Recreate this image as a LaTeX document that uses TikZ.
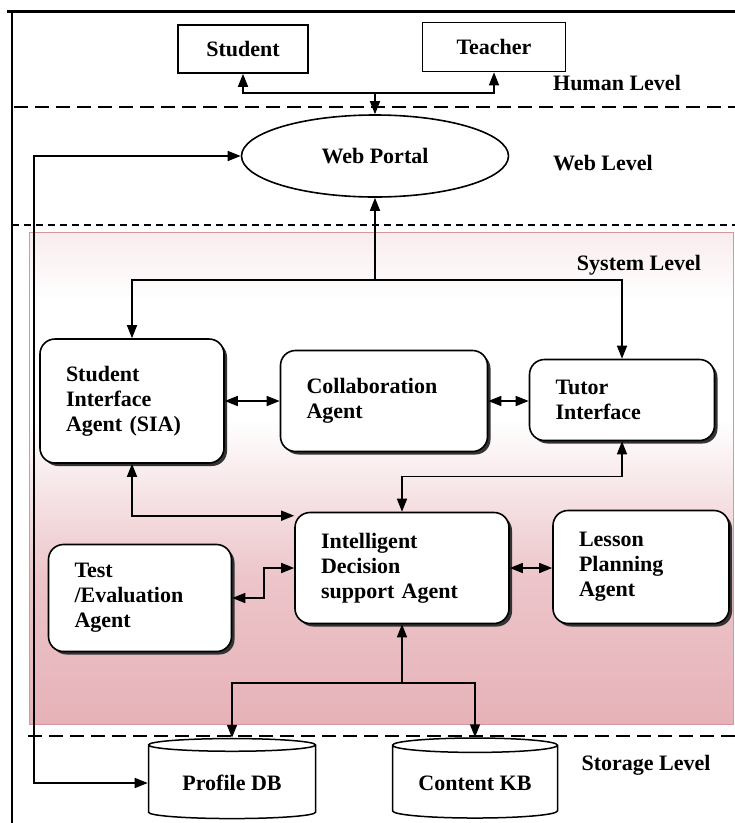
\documentclass[tikz,border=0pt]{standalone}
\usepackage{fontspec}
\setmainfont{Liberation Serif}
\usetikzlibrary{arrows.meta,shapes.geometric,shadows}

\definecolor{syspink}{RGB}{230,178,184}
\definecolor{sysedge}{RGB}{214,150,158}
\pgfdeclareverticalshading{sysfade}{100bp}{color(0bp)=(syspink); color(25bp)=(syspink); color(40bp)=(syspink!75!white); color(56bp)=(white); color(68bp)=(white); color(75bp)=(syspink!25!white); color(100bp)=(syspink!25!white)}

\begin{document}
\begin{tikzpicture}[x=1pt,y=-1pt,>={Triangle[length=13pt,width=10pt]},
        every node/.style={font=\fontsize{22}{25}\selectfont\bfseries},
        person/.style={draw,line width=1.6pt,fill=white},
        agent/.style={draw,line width=1.6pt,fill=white,rounded corners=15pt,align=left,inner xsep=26pt,
          drop shadow={shadow xshift=3pt,shadow yshift=-3pt,fill=black!80,opacity=1}},
        store/.style={draw,cylinder,shape border rotate=90,aspect=0.12,fill=white,line width=1.5pt},
        levelline/.style={line width=2pt,dash pattern=on 14pt off 7pt},
        link/.style={line width=1.6pt}]
        \useasboundingbox (0,0) rectangle (735,823);

        % system level background
        \shade[shading=sysfade] (29,232) rectangle (733,724);
        \draw[sysedge,line width=1pt] (29,232) rectangle (733,724);

        % frame and level separators
        \draw[line width=3pt] (7,11) -- (735,11);
        \draw[line width=2pt] (12,11) -- (12,823);
        \draw[levelline] (14,107) -- (735,107);
        \draw[line width=2pt,dash pattern=on 7pt off 5pt] (12,225) -- (735,225);
        \draw[levelline] (28,736) -- (735,736);

        % level labels
        \node (human) at (617,83) {Human Level};
        \node (web) at (603,163) {Web Level};
        \node (system) at (639,265) {System Level};
        \node (storage) at (646,765) {Storage Level};

        % human and web level
        \node[person, minimum width=130pt, minimum height=48pt] (student) at (243,49) {Student};
        \node[person, minimum width=143pt, minimum height=49pt] (teacher) at (494,47) {Teacher};
        \node[draw, ellipse, line width=1.6pt, fill=white, minimum width=267pt, minimum height=82pt] (portal) at (375,156) {Web Portal};

        % agents
        \node[agent, text width=132pt, minimum height=124pt] (sia) at (132,401) {Student\\Interface\\Agent (SIA)};
        \node[agent, text width=155pt, minimum height=101pt] (collab) at (384,401) {Collaboration\\Agent};
        \node[agent, text width=133pt, minimum height=81pt] (tutor) at (622,400) {Tutor\\Interface};
        \node[agent, text width=162pt, minimum height=111pt] (idsa) at (402,568) {Intelligent\\Decision\\support Agent};
        \node[agent, text width=124pt, minimum height=113pt] (lesson) at (641,567) {Lesson\\Planning\\Agent};
        \node[agent, text width=131pt, minimum height=107pt] (test) at (140,598) {Test\\/Evaluation\\Agent};

        % storage
        \node[store, minimum width=167pt, minimum height=80pt] (profile) at (232,783) {Profile DB};
        \node[store, minimum width=165pt, minimum height=80pt] (content) at (475,783) {Content KB};

        % junctions
        \coordinate (hub) at (375,93);
        \coordinate (sysjoin) at (375,280);
        \coordinate (storjoin) at (402,683);
        \coordinate (leftbus) at (34,470);

        \draw[link,->] (hub) -| (student.south);
        \draw[link,->] (hub) -| (teacher.south);
        \draw[link,->] (hub) -- (portal.north);

        \draw[link,<->] (portal.west) -| (leftbus) |- (profile.west);

        \draw[link,->] (sysjoin) -- (portal.south);
        \draw[link,->] (sysjoin) -| (sia.north);
        \draw[link,->] (sysjoin) -| (tutor.north);

        \draw[link,<->] (sia.east) -- (sia.east -| collab.west);
        \draw[link,<->] (collab.east) -- (collab.east -| tutor.west);
        \draw[link,<->] (tutor.south) -- ++(0,35) -| (idsa.north);
        \draw[link,<->] (sia.south) |- ([yshift=-4pt]idsa.north west);
        \draw[link,<->] (idsa.west) -- ++(-30,0) |- (test.east);
        \draw[link,<->] (idsa.east) -- (idsa.east -| lesson.west);

        \draw[link,->] (storjoin) -- (idsa.south);
        \draw[link,->] (storjoin) -| (profile.north);
        \draw[link,->] (storjoin) -| (content.north);
\end{tikzpicture}
\end{document}
